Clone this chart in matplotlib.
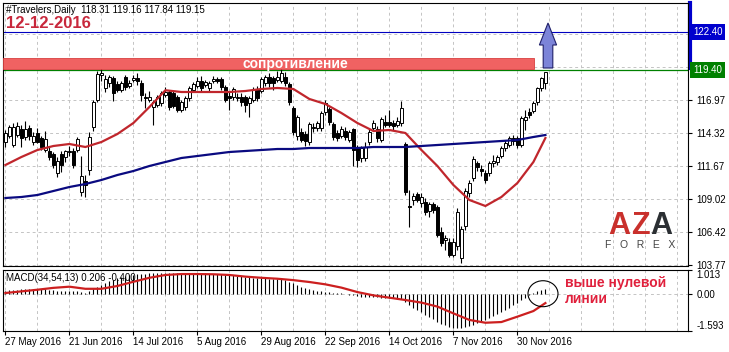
import matplotlib
matplotlib.use('Agg')
import matplotlib.pyplot as plt
from matplotlib.patches import Rectangle, Ellipse, FancyArrow
from matplotlib.transforms import blended_transform_factory
import numpy as np

plt.rcParams['font.family'] = ['Liberation Sans', 'DejaVu Sans']

# daily candles, 27 May 2016 .. 12 Dec 2016
opens = [113.6, 114.1, 113.4, 114.2, 114.6, 114.0, 114.7, 113.6, 114.3, 113.9,
         113.0, 112.9, 112.6, 111.1, 112.6, 112.4, 112.8, 112.9, 113.0, 109.6,
         110.5, 111.4, 114.8, 117.0, 119.0, 117.9, 118.3, 118.7, 118.2, 117.8,
         118.8, 118.1, 118.6, 118.7, 118.3, 117.2, 117.0, 116.4, 116.6, 116.7,
         117.4, 117.6, 117.5, 117.2, 116.2, 116.4, 117.1, 117.8, 118.1, 118.5,
         118.2, 117.9, 118.5, 118.6, 118.6, 118.0, 117.3, 117.2, 117.1, 117.2,
         117.2, 116.7, 117.0, 117.8, 117.7, 118.3, 118.8, 118.7, 118.6, 118.5,
         118.8, 118.2, 116.3, 114.1, 114.4, 114.2, 113.6, 114.7, 114.7, 114.7,
         116.0, 116.2, 115.0, 114.3, 114.1, 114.5, 113.8, 114.6, 113.2, 112.3,
         112.3, 113.6, 114.7, 114.6, 113.8, 115.2, 115.2, 115.1, 115.0, 115.1,
         113.4, 108.5, 109.0, 109.4, 108.7, 108.8, 108.1, 108.6, 108.4, 106.4,
         105.8, 105.6, 104.6, 105.3, 104.3, 106.9, 109.5, 110.7, 111.9, 111.4,
         111.1, 111.1, 111.9, 112.0, 112.5, 113.1, 113.4, 113.9, 113.9, 113.4,
         115.4, 116.0, 116.1, 116.8, 117.9, 118.31]
highs = [114.6, 115.0, 115.1, 115.2, 115.0, 115.3, 115.0, 114.4, 114.7, 114.1,
         114.5, 113.2, 112.8, 112.4, 112.9, 113.0, 113.3, 113.1, 114.0, 112.5,
         111.0, 114.4, 117.0, 119.3, 119.6, 119.0, 119.0, 118.9, 118.5, 118.5,
         119.0, 118.6, 119.0, 119.1, 118.6, 117.5, 117.7, 117.0, 117.4, 117.7,
         118.0, 117.8, 117.7, 117.4, 117.0, 117.3, 118.1, 118.4, 118.8, 118.9,
         118.6, 118.5, 118.9, 118.8, 118.8, 118.2, 117.6, 118.0, 117.5, 117.5,
         117.4, 117.3, 118.0, 118.1, 118.8, 119.0, 119.1, 118.9, 119.3, 119.5,
         119.2, 118.4, 116.5, 115.8, 114.7, 114.5, 115.2, 115.1, 115.3, 116.1,
         117.0, 116.4, 115.2, 114.6, 114.9, 114.8, 114.6, 114.7, 113.4, 113.3,
         113.6, 114.7, 115.4, 114.9, 115.6, 115.8, 116.2, 115.4, 115.6, 116.9,
         113.6, 109.8, 109.5, 109.6, 109.5, 109.1, 108.8, 108.8, 108.6, 106.8,
         106.2, 105.9, 105.9, 108.3, 106.9, 109.9, 110.6, 112.5, 112.1, 111.8,
         111.4, 112.1, 112.6, 112.6, 113.3, 113.8, 114.1, 114.2, 114.1, 115.7,
         116.2, 116.3, 116.9, 118.0, 118.8, 119.16]
lows = [113.2, 113.9, 113.2, 114.0, 113.2, 113.8, 113.8, 113.4, 113.5, 113.0,
        112.8, 112.2, 111.5, 110.8, 111.2, 112.0, 112.5, 111.5, 112.8, 109.3,
        109.2, 111.0, 114.5, 116.8, 118.5, 117.6, 118.0, 116.9, 117.6, 117.6,
        117.8, 117.9, 118.4, 118.2, 116.9, 116.3, 116.8, 115.0, 116.4, 116.5,
        117.2, 116.2, 116.3, 116.0, 116.0, 116.2, 116.9, 117.6, 117.9, 117.7,
        118.0, 117.7, 118.3, 118.3, 117.8, 116.8, 116.2, 117.0, 116.9, 116.5,
        116.0, 115.6, 116.8, 116.9, 117.5, 118.1, 118.0, 117.8, 118.4, 118.3,
        118.1, 116.6, 114.2, 113.8, 113.6, 113.3, 113.4, 114.4, 114.5, 114.5,
        115.8, 115.0, 113.8, 113.7, 113.9, 113.8, 113.6, 111.7, 111.6, 112.0,
        112.1, 113.4, 114.5, 113.6, 113.6, 114.8, 114.8, 114.6, 114.8, 114.9,
        109.4, 106.8, 108.6, 108.8, 108.4, 107.8, 107.6, 107.9, 106.0, 105.3,
        105.0, 104.4, 104.4, 105.0, 103.9, 106.6, 109.2, 110.5, 111.3, 110.9,
        110.3, 110.9, 111.6, 111.8, 112.3, 112.9, 113.2, 113.4, 113.1, 113.2,
        114.6, 115.5, 115.9, 116.6, 117.7, 117.84]
closes = [114.3, 114.8, 114.8, 114.9, 113.9, 114.6, 114.1, 114.1, 113.6, 113.2,
          113.8, 112.4, 111.8, 112.1, 111.8, 112.9, 112.9, 111.8, 113.8, 110.9,
          110.2, 114.0, 116.8, 119.0, 119.1, 118.6, 118.8, 117.5, 117.8, 118.3,
          118.0, 118.3, 118.7, 118.5, 117.4, 117.1, 117.2, 116.8, 117.2, 117.5,
          117.6, 116.4, 116.5, 116.2, 116.8, 117.1, 117.9, 118.2, 118.5, 117.9,
          118.4, 118.3, 118.6, 118.5, 118.0, 117.0, 117.1, 117.8, 117.2, 116.8,
          116.6, 117.1, 117.8, 117.1, 118.6, 118.8, 118.3, 118.3, 118.8, 119.1,
          118.3, 116.8, 114.4, 115.6, 113.8, 113.7, 115.0, 114.8, 115.1, 115.9,
          116.7, 115.2, 114.0, 113.9, 114.6, 114.0, 114.4, 113.0, 112.2, 113.1,
          113.2, 114.4, 115.1, 113.9, 115.4, 115.0, 115.0, 114.9, 115.3, 116.3,
          109.6, 108.4, 109.3, 109.0, 109.2, 108.0, 108.6, 108.2, 106.2, 105.5,
          105.9, 104.6, 105.6, 108.0, 106.6, 109.7, 110.3, 112.2, 111.6, 111.3,
          110.6, 111.9, 112.1, 112.4, 113.1, 113.5, 113.9, 113.7, 113.4, 115.5,
          115.6, 115.8, 116.7, 117.9, 118.7, 119.15]

# moving averages, read every 4th bar
ma_bars = list(range(0, 136, 4)) + [135]
ma_red = [111.77, 112.41, 112.97, 113.29, 113.45, 113.21, 113.61, 114.25, 115.13, 116.41,
          117.75, 117.61, 117.61, 117.61, 117.61, 117.69, 117.85, 117.93, 117.85, 117.05,
          116.65, 115.93, 115.13, 114.49, 114.57, 114.33, 112.97, 111.69, 110.17, 108.97,
          108.49, 109.21, 110.33, 112.01, 113.93]
ma_blue = [109.13, 109.21, 109.37, 109.69, 110.01, 110.25, 110.57, 110.97, 111.29, 111.69,
           112.01, 112.33, 112.49, 112.65, 112.81, 112.89, 112.97, 113.05, 113.05, 113.13,
           113.13, 113.13, 113.13, 113.21, 113.21, 113.21, 113.29, 113.37, 113.45, 113.53,
           113.61, 113.69, 113.77, 114.01, 114.17]

# MACD(34,54,13)
macd_main = [0.12, 0.14, 0.15, 0.17, 0.18, 0.19, 0.20, 0.20, 0.20, 0.19,
             0.18, 0.17, 0.15, 0.13, 0.12, 0.11, 0.10, 0.10, 0.11, 0.08,
             0.05, 0.10, 0.18, 0.28, 0.38, 0.46, 0.53, 0.60, 0.66, 0.71,
             0.75, 0.78, 0.81, 0.83, 0.85, 0.86, 0.87, 0.88, 0.88, 0.89,
             0.89, 0.89, 0.88, 0.88, 0.87, 0.87, 0.87, 0.87, 0.87, 0.87,
             0.87, 0.86, 0.86, 0.85, 0.84, 0.82, 0.80, 0.78, 0.76, 0.74,
             0.72, 0.70, 0.68, 0.67, 0.66, 0.65, 0.64, 0.63, 0.62, 0.61,
             0.58, 0.52, 0.44, 0.37, 0.30, 0.24, 0.19, 0.15, 0.12, 0.10,
             0.09, 0.07, 0.05, 0.03, 0.01, -0.02, -0.04, -0.07, -0.10, -0.12,
             -0.13, -0.14, -0.15, -0.16, -0.17, -0.18, -0.19, -0.20, -0.21, -0.22,
             -0.35, -0.48, -0.60, -0.70, -0.80, -0.90, -1.00, -1.10, -1.20, -1.28,
             -1.35, -1.42, -1.47, -1.48, -1.46, -1.42, -1.37, -1.32, -1.26, -1.20,
             -1.13, -1.05, -0.97, -0.88, -0.79, -0.70, -0.60, -0.50, -0.40, -0.28,
             -0.17, -0.07, 0.02, 0.10, 0.16, 0.206]
macd_signal = [0.03, 0.10, 0.17, 0.25, 0.30, 0.21, 0.21, 0.33, 0.51, 0.68,
               0.80, 0.84, 0.84, 0.83, 0.80, 0.73, 0.68, 0.64, 0.58, 0.50,
               0.40, 0.26, 0.07, -0.07, -0.17, -0.27, -0.38, -0.55, -0.84, -1.12,
               -1.24, -1.21, -0.98, -0.74, -0.40]

date_ticks = [0, 16, 32, 48, 64, 80, 96, 112, 128]
date_labels = ['27 May 2016', '21 Jun 2016', '14 Jul 2016', '5 Aug 2016', '29 Aug 2016',
               '22 Sep 2016', '14 Oct 2016', '7 Nov 2016', '30 Nov 2016']
price_ticks = [103.77, 106.42, 109.02, 111.67, 114.32, 116.97]
hidden_grid = [119.62, 122.27]
resist_level = 119.40
target_level = 122.40
macd_ticks = [-1.593, 0.0, 1.013]

W, H = 729, 352
fig = plt.figure(figsize=(W / 100, H / 100), dpi=100)
ax = fig.add_axes([3 / W, 1 - 266 / H, 685 / W, 263 / H])
ax2 = fig.add_axes([3 / W, 1 - 331 / H, 685 / W, 61 / H], sharex=ax)

grid_kw = dict(color='#c4c4c4', lw=0.7, ls=(0, (3, 3)), zorder=0)
idx = np.arange(len(closes))
o, h, l, c = map(np.array, (opens, highs, lows, closes))

# main chart
for xb in range(0, 171, 8):
    ax.axvline(xb, **grid_kw)
    ax2.axvline(xb, **grid_kw)
for p in price_ticks + hidden_grid:
    ax.axhline(p, **grid_kw)
ax2.axhline(0, **grid_kw)

ax.vlines(idx, l, h, color='black', lw=0.8, zorder=3)
up = c >= o
ax.bar(idx, np.abs(c - o) + 0.03, bottom=np.minimum(o, c), width=0.75,
       color=np.where(up, 'white', 'black'), edgecolor='black', lw=0.7, zorder=4)

ax.plot(ma_bars, ma_red, color='#c0262c', lw=1.6, zorder=5)
ax.plot(ma_bars, ma_blue, color='#0a0a80', lw=1.6, zorder=5)

ax.axhline(target_level, color='#0000c0', lw=0.8, zorder=2)
ax.axhline(resist_level, color='#008000', lw=0.9, zorder=2)
ax.add_patch(Rectangle((-0.6, 119.45), 132.8, 0.87, fc='#f06262', ec='#d84040', lw=0.6, zorder=6))
ax.text(72.6, 119.88, 'сопротивление', color='white', fontsize=10, fontweight='bold',
        ha='center', va='center', zorder=7)
ax.add_patch(FancyArrow(135.65, 119.53, 0, 3.6, width=2.4, head_width=4.3, head_length=1.76,
                        length_includes_head=True, fc='#7c84d8', ec='#20206a', lw=0.8, zorder=8))

ax.set_xlim(-0.6, 170.65)
ax.set_ylim(103.69, 124.73)
ax.yaxis.tick_right()
ax.set_yticks(price_ticks, [f'{p:.2f}' for p in price_ticks])
ax.tick_params(axis='y', direction='out', length=3, pad=3, labelsize=7)
ax.tick_params(axis='x', bottom=False, labelbottom=False)

tr = blended_transform_factory(ax.transAxes, ax.transData)
ax.text(1 + 5 / 685, target_level, '122.40', transform=tr, fontsize=7, va='center', color='white',
        bbox=dict(boxstyle='square,pad=0.3', fc='#0000cd', ec='none'))
ax.text(1 + 5 / 685, resist_level, '119.40', transform=tr, fontsize=7, va='center', color='white',
        bbox=dict(boxstyle='square,pad=0.3', fc='#008000', ec='none'))
ax.plot([1.003, 1.003], [119.55, 124.73], transform=tr, color='#0000cd', lw=3, clip_on=False)

# MACD window
ax2.vlines(idx, 0, macd_main, color='black', lw=0.8, zorder=3)
ax2.plot(ma_bars, macd_signal, color='#cc1f1f', lw=1.6, zorder=4)
ax2.add_patch(Ellipse((134.4, 0.0), 7.5, 1.11, fill=False, ec='black', lw=0.8, zorder=5, clip_on=False))
ax2.set_ylim(-1.593, 1.013)
ax2.yaxis.tick_right()
ax2.set_yticks(macd_ticks, ['-1.593', '0.00', '1.013'])
ax2.tick_params(axis='y', direction='out', length=3, pad=3, labelsize=7)
ylabs = ax2.get_yticklabels()
ylabs[0].set_va('bottom')
ylabs[2].set_va('top')
ax2.set_xticks(date_ticks, date_labels)
ax2.tick_params(axis='x', direction='out', length=3, pad=1.5, labelsize=7)
for lbl in ax2.get_xticklabels():
    lbl.set_ha('left')

for a in (ax, ax2):
    for s in a.spines.values():
        s.set_color('black')
        s.set_linewidth(0.8)

# texts
fig.text(6 / W, 1 - 10 / H, '#Travelers,Daily  118.31 119.16 117.84 119.15', fontsize=7, va='center')
fig.text(6 / W, 1 - 24 / H, '12-12-2016', color='#c8283c', fontsize=12, fontweight='bold', va='center')
fig.text(6 / W, 1 - 278 / H, 'MACD(34,54,13) 0.206 -0.400', fontsize=7, va='center')
fig.text(565 / W, 1 - 283 / H, 'выше нулевой', color='#e0203c', fontsize=10, fontweight='bold', va='center')
fig.text(565 / W, 1 - 299 / H, 'линии', color='#e0203c', fontsize=10, fontweight='bold', va='center')

# logo
for ch, xpos, col in (('A', 619, '#c9302c'), ('Z', 640, '#c9302c'), ('A', 661, '#2b2f33')):
    fig.text(xpos / W, 1 - 234 / H, ch, color=col, fontsize=22, fontweight='bold', ha='center', va='baseline')
fig.text(640 / W, 1 - 245 / H, 'F   O   R   E   X', color='#444444', fontsize=7.5, ha='center', va='center')

fig.savefig('out.png', dpi=100, facecolor='white')
